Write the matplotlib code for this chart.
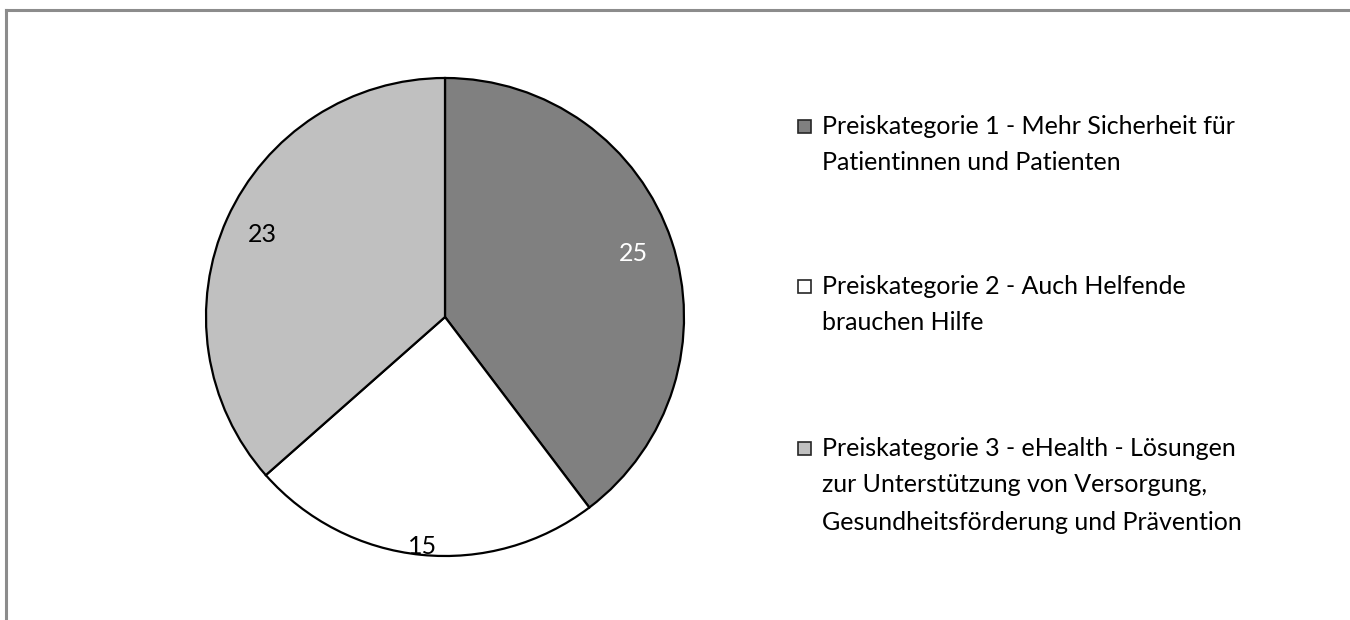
import numpy as np
import matplotlib
matplotlib.use("Agg")
import matplotlib.pyplot as plt
from matplotlib.patches import Rectangle
from matplotlib.lines import Line2D

plt.rcParams['font.family'] = ['Lato', 'DejaVu Sans']

categories = [
    "Preiskategorie 1 - Mehr Sicherheit für\nPatientinnen und Patienten",
    "Preiskategorie 2 - Auch Helfende\nbrauchen Hilfe",
    "Preiskategorie 3 - eHealth - Lösungen\nzur Unterstützung von Versorgung,\nGesundheitsförderung und Prävention",
]
values = [25, 15, 23]
colors = ["#808080", "#ffffff", "#c0c0c0"]
label_colors = ["white", "black", "black"]

W, H = 1350, 620
fig = plt.figure(figsize=(W / 100, H / 100), dpi=100)

def fx(x):
    return x / W

def fy(y):
    return 1 - y / H

# outer frame (only top and left edges visible)
fig.add_artist(Line2D([fx(6), 1.0], [fy(10), fy(10)], color="#8c8c8c", lw=2.2, transform=fig.transFigure))
fig.add_artist(Line2D([fx(6), fx(6)], [fy(10), 0.0], color="#8c8c8c", lw=2.2, transform=fig.transFigure))

# pie
cx, cy, r, pad = 445, 317, 239, 250
ax = fig.add_axes([fx(cx - pad), fy(cy + pad), 2 * pad / W, 2 * pad / H])
wedges, _ = ax.pie(values, colors=colors, startangle=90, counterclock=False,
                   wedgeprops=dict(edgecolor="black", linewidth=1.6))
ax.set_xlim(-pad / r, pad / r)
ax.set_ylim(-pad / r, pad / r)
ax.set_aspect("equal")
ax.axis("off")

dist = [0.83, 0.965, 0.84]
for w, v, d, c in zip(wedges, values, dist, label_colors):
    ang = np.deg2rad((w.theta1 + w.theta2) / 2)
    ax.text(d * np.cos(ang), d * np.sin(ang), str(v), ha="center", va="center",
            fontsize=18, color=c)

# legend
entry_y = [126, 286, 448]
line_h = 37
for cat, col, y0 in zip(categories, colors, entry_y):
    fig.add_artist(Rectangle((fx(798), fy(y0 + 7)), 13 / W, 13 / H, facecolor=col,
                             edgecolor="#262626", lw=1.2, transform=fig.transFigure))
    for j, line in enumerate(cat.split("\n")):
        fig.text(fx(822), fy(y0 + j * line_h), line, ha="left", va="center",
                 fontsize=18, color="black")

fig.savefig("out.png", dpi=100)
